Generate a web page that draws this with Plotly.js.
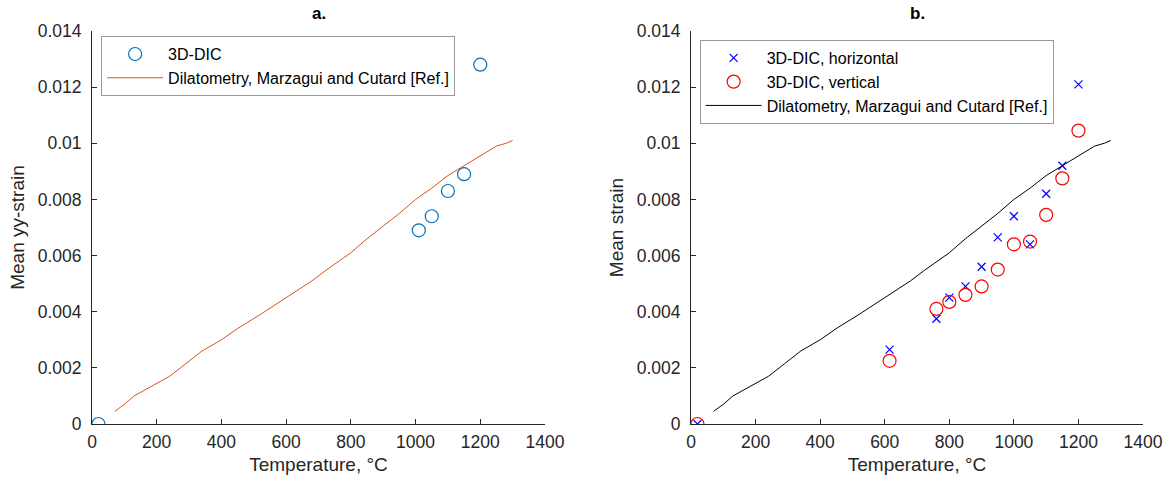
<!DOCTYPE html>
<html><head><meta charset="utf-8">
<script src="https://cdn.plot.ly/plotly-3.0.1.min.js"></script>
<style>body{margin:0;background:#fff}#c{width:1169px;height:481px}</style>
</head><body><div id="c"></div>
<script>
// Dilatometry reference curve (both panels)
const dilT = [70, 100, 130, 180, 240, 290, 340, 400, 450, 520, 600, 640, 680, 720, 750, 800, 850, 900, 950, 1000, 1050, 1100, 1150, 1200, 1250, 1280, 1300];
const dilS = [0.00045, 0.0007, 0.001, 0.00132, 0.0017, 0.00215, 0.0026, 0.003, 0.0034, 0.0039, 0.0045, 0.0048, 0.0051, 0.00545, 0.0057, 0.0061, 0.0066, 0.00705, 0.0075, 0.0080, 0.0084, 0.00885, 0.0092, 0.00955, 0.0099, 0.01, 0.0101];
// Panel a: 3D-DIC
const aT = [20, 1010, 1050, 1100, 1150, 1200];
const aS = [0, 0.0069, 0.0074, 0.0083, 0.0089, 0.0128];
// Panel b
const bT = [20, 615, 760, 800, 850, 900, 950, 1000, 1050, 1100, 1150, 1200];
const bH = [0, 0.00265, 0.00375, 0.0045, 0.0049, 0.0056, 0.00665, 0.0074, 0.0064, 0.0082, 0.0092, 0.0121];
const bV = [0, 0.00225, 0.0041, 0.00435, 0.0046, 0.0049, 0.0055, 0.0064, 0.0065, 0.00745, 0.00875, 0.01045];
const xTicks = [0, 200, 400, 600, 800, 1000, 1200, 1400];
const yTicks = [0, 0.002, 0.004, 0.006, 0.008, 0.01, 0.012, 0.014];
const yLabels = ['0', '0.002', '0.004', '0.006', '0.008', '0.01', '0.012', '0.014'];

const txt = '#262626';
const F = 'Liberation Sans, Arial, sans-serif';
const traces = [
  {x: aT, y: aS, type: 'scatter', mode: 'markers', name: '3D-DIC', xaxis: 'x', yaxis: 'y', legend: 'legend',
   marker: {symbol: 'circle-open', size: 13, color: '#0072BD', line: {width: 1.2}}},
  {x: dilT, y: dilS, type: 'scatter', mode: 'lines', name: 'Dilatometry, Marzagui and Cutard [Ref.]', xaxis: 'x', yaxis: 'y', legend: 'legend',
   line: {color: '#D95319', width: 1}},
  {x: bT, y: bH, type: 'scatter', mode: 'markers', name: '3D-DIC, horizontal', xaxis: 'x2', yaxis: 'y2', legend: 'legend2',
   marker: {symbol: 'x-thin-open', size: 8, color: '#0000FF', line: {width: 1.2, color: '#0000FF'}}},
  {x: bT, y: bV, type: 'scatter', mode: 'markers', name: '3D-DIC, vertical', xaxis: 'x2', yaxis: 'y2', legend: 'legend2',
   marker: {symbol: 'circle-open', size: 13, color: '#FF0000', line: {width: 1.2}}},
  {x: dilT, y: dilS, type: 'scatter', mode: 'lines', name: 'Dilatometry, Marzagui and Cutard [Ref.]', xaxis: 'x2', yaxis: 'y2', legend: 'legend2',
   line: {color: '#000000', width: 1}}
];
function xax(dom, anchor){
  return {domain: dom, anchor: anchor, range: [0, 1400], tickvals: xTicks, ticktext: xTicks.map(String),
    ticks: 'inside', ticklen: 5, tickcolor: txt, showline: true, linecolor: txt, linewidth: 1,
    showgrid: false, zeroline: false, tickfont: {family: F, size: 17.5, color: txt}, ticklabelstandoff: 2,
    title: {text: 'Temperature, °C', font: {family: F, size: 19, color: txt}, standoff: 6}};
}
function yax(anchor, title){
  return {domain: [0.1185, 0.9356], anchor: anchor, range: [0, 0.014], tickvals: yTicks, ticktext: yLabels,
    ticks: 'inside', ticklen: 5, tickcolor: txt, showline: true, linecolor: txt, linewidth: 1,
    showgrid: false, zeroline: false, tickfont: {family: F, size: 17.5, color: txt}, ticklabelstandoff: 6,
    title: {text: title, font: {family: F, size: 19, color: txt}, standoff: 8}};
}
const legBase = {bgcolor: '#fff', bordercolor: '#999', borderwidth: 1, font: {family: F, size: 16, color: '#000'},
  xanchor: 'left', yanchor: 'top', tracegroupgap: 0, itemwidth: 56};
const layout = {
  width: 1169, height: 481, paper_bgcolor: '#fff', plot_bgcolor: '#fff',
  margin: {l: 0, r: 0, t: 0, b: 0},
  xaxis: xax([0.0787, 0.4662], 'y'),
  yaxis: yax('x', 'Mean yy-strain'),
  xaxis2: xax([0.5911, 0.9778], 'y2'),
  yaxis2: yax('x2', 'Mean strain'),
  legend: Object.assign({}, legBase, {x: 0.0865, y: 0.925}),
  legend2: Object.assign({}, legBase, {x: 0.5985, y: 0.917}),
  annotations: [
    {text: '<b>a.</b>', x: 0.2725, y: 0.995, xref: 'paper', yref: 'paper', xanchor: 'center', yanchor: 'top', showarrow: false, font: {family: F, size: 17, color: '#000'}},
    {text: '<b>b.</b>', x: 0.7845, y: 0.995, xref: 'paper', yref: 'paper', xanchor: 'center', yanchor: 'top', showarrow: false, font: {family: F, size: 17, color: '#000'}}
  ]
};
Plotly.newPlot('c', traces, layout, {displayModeBar: false});
</script></body></html>
